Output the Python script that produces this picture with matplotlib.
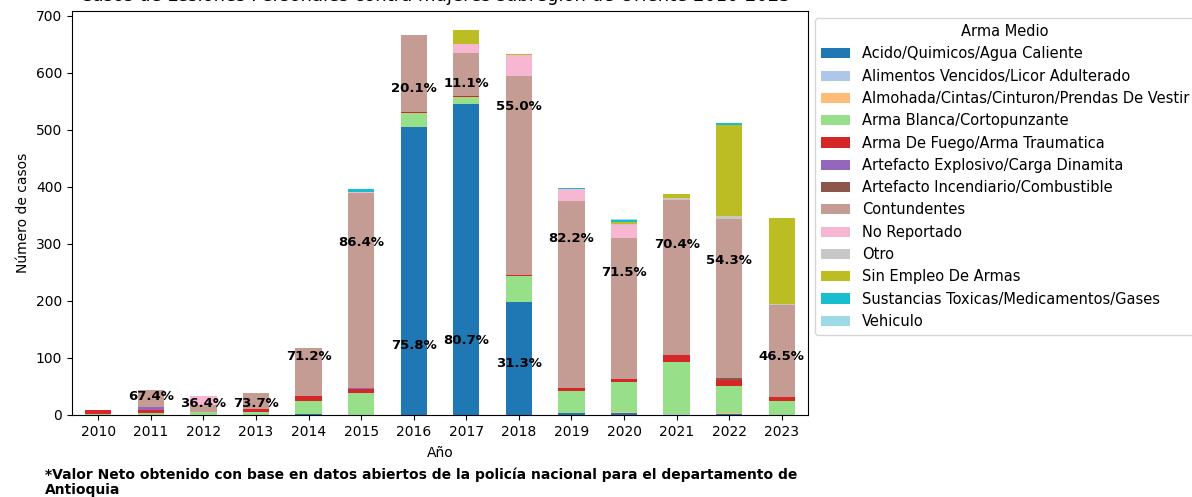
import numpy as np
import matplotlib
matplotlib.use("Agg")
import matplotlib.pyplot as plt

# === datos ===
years = [2010, 2011, 2012, 2013, 2014, 2015, 2016, 2017, 2018, 2019, 2020, 2021, 2022, 2023]
categorias = [
    "Acido/Quimicos/Agua Caliente",
    "Alimentos Vencidos/Licor Adulterado",
    "Almohada/Cintas/Cinturon/Prendas De Vestir",
    "Arma Blanca/Cortopunzante",
    "Arma De Fuego/Arma Traumatica",
    "Artefacto Explosivo/Carga Dinamita",
    "Artefacto Incendiario/Combustible",
    "Contundentes",
    "No Reportado",
    "Otro",
    "Sin Empleo De Armas",
    "Sustancias Toxicas/Medicamentos/Gases",
    "Vehiculo",
]

acido        = [0, 0, 0, 0, 2, 0, 505, 545, 198, 4, 3, 0, 2, 0]
alimentos    = [0, 0, 0, 0, 0, 0, 0, 0, 0, 0, 0, 2, 0, 0]
almohada     = [0, 0, 0, 0, 0, 0, 0, 0, 1, 0, 3, 0, 1, 0]
arma_blanca  = [1, 4, 5, 6, 23, 39, 24, 13, 44, 38, 52, 91, 48, 25]
arma_fuego   = [7, 5, 0, 4, 9, 7, 3, 2, 3, 6, 6, 12, 10, 7]
explosivo    = [0, 5, 1, 0, 0, 2, 0, 0, 0, 0, 0, 0, 0, 0]
incendiario  = [0, 0, 0, 0, 0, 0, 0, 0, 0, 0, 0, 0, 4, 0]
contundentes = [0, 29, 12, 28, 84, 342, 134, 75, 348, 328, 246, 273, 278, 161]
no_reportado = [0, 0, 15, 0, 0, 1, 0, 16, 38, 20, 24, 0, 0, 0]
otro         = [0, 0, 0, 0, 0, 0, 0, 0, 0, 0, 1, 2, 6, 1]
sin_empleo   = [0, 0, 0, 0, 0, 0, 0, 24, 1, 0, 3, 7, 160, 152]
sustancias   = [0, 0, 0, 0, 0, 5, 0, 0, 0, 3, 4, 1, 3, 0]
vehiculo     = [0, 0, 0, 0, 0, 0, 0, 0, 0, 0, 2, 0, 0, 0]

series = [acido, alimentos, almohada, arma_blanca, arma_fuego, explosivo, incendiario,
          contundentes, no_reportado, otro, sin_empleo, sustancias, vehiculo]

# altura (en casos) donde quedó cada etiqueta de porcentaje en el original
etiquetas_acido_y = {2016: 122, 2017: 131, 2018: 91}
etiquetas_cont_y = {2011: 33, 2012: 21, 2013: 21, 2014: 103, 2015: 303, 2016: 572,
                    2017: 581, 2018: 541, 2019: 310, 2020: 250, 2021: 299, 2022: 271,
                    2023: 103}

# === gráfico ===
fig = plt.figure(figsize=(11.92, 4.97), dpi=100)
ax = fig.add_axes([72 / 1192, 1 - 415 / 497, 736 / 1192, 404 / 497])

colores = plt.cm.tab20(np.linspace(0, 1, len(categorias)))
x = np.arange(len(years))
bottom = np.zeros(len(years))
for nombre, valores, color in zip(categorias, series, colores):
    v = np.array(valores, dtype=float)
    ax.bar(x, v, 0.5, bottom=bottom, color=color, label=nombre)
    bottom += v

totales = bottom
for i, year in enumerate(years):
    if year in etiquetas_acido_y:
        pct = acido[i] / totales[i] * 100
        ax.text(i, etiquetas_acido_y[year], f"{pct:.1f}%", ha="center", va="center",
                fontsize=9.5, fontweight="bold")
    if year in etiquetas_cont_y:
        pct = contundentes[i] / totales[i] * 100
        ax.text(i, etiquetas_cont_y[year], f"{pct:.1f}%", ha="center", va="center",
                fontsize=9.5, fontweight="bold")

ax.set_xticks(x)
ax.set_xticklabels([str(y) for y in years])
ax.set_xlim(-0.5, len(years) - 0.5)
ax.set_ylim(0, totales.max() * 1.05)
ax.set_xlabel("Año", labelpad=5)
ax.set_ylabel("Número de casos")
ax.set_title("Casos de Lesiones Personales contra mujeres subregión de Oriente 2010-2023*",
             fontsize=13, pad=7)
ax.legend(title="Arma Medio", loc="upper left", bbox_to_anchor=(1.0, 1.0),
          fontsize=10.5, title_fontsize=10.5)

fig.text(45 / 1192, 1 - 467 / 497,
         "*Valor Neto obtenido con base en datos abiertos de la policía nacional para el departamento de\nAntioquia",
         fontsize=10, fontweight="bold", va="top", ha="left", linespacing=1.15)

plt.savefig("out.png", dpi=100)
plt.close()
